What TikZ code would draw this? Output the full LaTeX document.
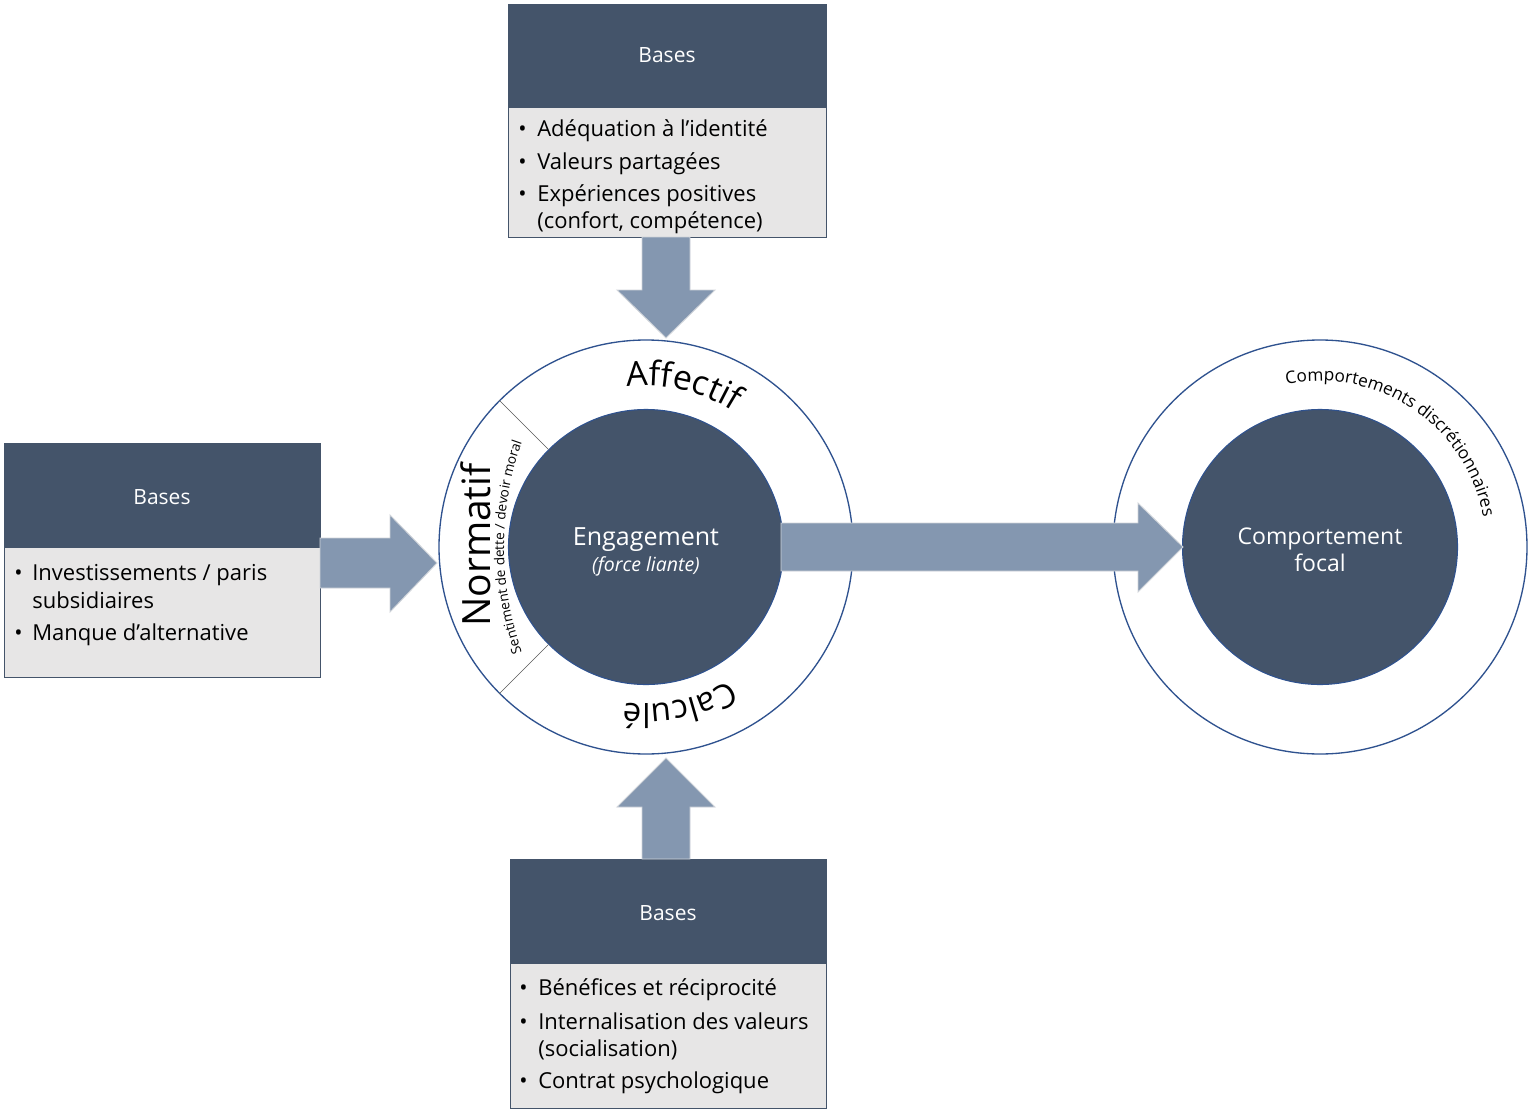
\documentclass[tikz,border=0pt]{standalone}
\usepackage{fontspec}
\setmainfont{Open Sans}
\usetikzlibrary{decorations.text,calc}
\definecolor{hdr}{HTML}{44546A}
\definecolor{bodyg}{HTML}{E7E6E6}
\definecolor{arrowc}{HTML}{8497B0}
\definecolor{ringc}{HTML}{2F528F}
\definecolor{arrowedge}{HTML}{D0D4DA}
\begin{document}
\begin{tikzpicture}[x=0.75pt,y=0.75pt,
  hdrbox/.style={rectangle, fill=hdr, draw=hdr, line width=0.8pt, anchor=north west, inner sep=0pt},
  bodybox/.style={rectangle, fill=bodyg, draw=hdr, line width=0.8pt, anchor=north west, inner sep=0pt},
  hdrtext/.style={text=white, font=\fontsize{15.75}{18}\selectfont, anchor=base, inner sep=0pt},
  itemtext/.style={font=\fontsize{16.5}{19}\selectfont, anchor=base west, inner sep=0pt},
  blockarrow/.style={fill=arrowc, draw=arrowedge, line width=0.7pt},
  ringstyle/.style={circle, draw=ringc, line width=1pt, fill=white, inner sep=0pt},
  corestyle/.style={circle, draw=ringc, line width=0.8pt, fill=hdr, inner sep=0pt},
  sepline/.style={draw=black!65, line width=0.5pt},
  arctext/.style={decorate, decoration={text along path, text align=center, text={#1}}},
  coretext/.style={text=white, anchor=base, inner sep=0pt}
]
\useasboundingbox (0,0) rectangle (1529,-1110);
\fill[white] (0,0) rectangle (1529,-1110);

% ---------- top box ----------
\node[bodybox, minimum width=238.5pt, minimum height=97.5pt] (topB) at (508,-107) {};
\node[hdrbox, minimum width=238.5pt, minimum height=77.25pt] (topH) at (508,-4) {};
\node[hdrtext] (topHt) at (667,-62) {Bases};
\node[itemtext] (tb1) at (518,-136) {•};
\node[itemtext] (t1) at (537,-136) {Adéquation à l’identité};
\node[itemtext] (tb2) at (518,-169) {•};
\node[itemtext] (t2) at (537,-169) {Valeurs partagées};
\node[itemtext] (tb3) at (518,-201) {•};
\node[itemtext] (t3) at (537,-201) {Expériences positives};
\node[itemtext] (t4) at (537,-228) {(confort, compétence)};

% ---------- left box ----------
\node[bodybox, minimum width=237pt, minimum height=97.5pt] (leftB) at (4,-547) {};
\node[hdrbox, minimum width=237pt, minimum height=78pt] (leftH) at (4,-443) {};
\node[hdrtext] (leftHt) at (162,-504) {Bases};
\node[itemtext] (lb1) at (14,-580) {•};
\node[itemtext] (l1) at (32,-580) {Investissements / paris};
\node[itemtext] (l2) at (32,-608) {subsidiaires};
\node[itemtext] (lb3) at (14,-640) {•};
\node[itemtext] (l3) at (32,-640) {Manque d’alternative};

% ---------- bottom box ----------
\node[bodybox, minimum width=237pt, minimum height=108.75pt] (botB) at (510,-963) {};
\node[hdrbox, minimum width=237pt, minimum height=78pt] (botH) at (510,-859) {};
\node[hdrtext] (botHt) at (668,-920) {Bases};
\node[itemtext] (bb1) at (519,-995) {•};
\node[itemtext] (b1) at (538,-995) {Bénéfices et réciprocité};
\node[itemtext] (bb2) at (519,-1029) {•};
\node[itemtext] (b2) at (538,-1029) {Internalisation des valeurs};
\node[itemtext] (b3) at (538,-1056) {(socialisation)};
\node[itemtext] (bb4) at (519,-1088) {•};
\node[itemtext] (b4) at (538,-1088) {Contrat psychologique};

% ---------- circles ----------
\node[ringstyle, minimum size=310.5pt] (ringA) at (646,-547) {};
\node[corestyle, minimum size=206.25pt] (coreA) at (646,-547) {};
\node[ringstyle, minimum size=310.5pt] (ringB) at (1320,-547) {};
\node[corestyle, minimum size=206.25pt] (coreB) at (1320,-547) {};

\draw[sepline] (coreA.135) -- (ringA.135);
\draw[sepline] (coreA.225) -- (ringA.225);

% curved labels
\path[arctext={|\fontsize{25.5}{30}\selectfont|Affectif}]
  ($(ringA.center)+(117:161)$) arc[start angle=117, end angle=37, radius=161];
\path[arctext={|\fontsize{24.75}{29}\selectfont|Calculé}]
  ($(ringA.center)+(-38:157)$) arc[start angle=-38, end angle=-118, radius=157];
\node[rotate=90, anchor=base, inner sep=0pt, font=\fontsize{29.25}{34}\selectfont] (norm) at (490,-545) {Normatif};
\path[arctext={|\fontsize{10.2}{12}\selectfont|Sentiment de dette / devoir moral}]
  ($(ringA.center)+(174,0)+(206:316)$) arc[start angle=206, end angle=154, radius=316];
\path[arctext={|\fontsize{12.9}{15}\selectfont|Comportements discrétionnaires}]
  ($(ringB.center)+(112:166)$) arc[start angle=112, end angle=0, radius=166];

% core texts
\node[coretext, font=\fontsize{18.75}{22}\selectfont] (eng) at (646,-545) {Engagement};
\node[coretext, font=\fontsize{14.6}{18}\selectfont\itshape] (force) at (646,-571) {(force liante)};
\node[coretext, font=\fontsize{17.25}{21}\selectfont] (comp) at (1320,-544) {Comportement};
\node[coretext, font=\fontsize{17.25}{21}\selectfont] (focal) at (1320,-571) {focal};

% ---------- block arrows ----------
\draw[blockarrow] (642,-237) -- (642,-290) -- (617,-290) -- (666,-338) -- (715,-290) -- (690,-290) -- (690,-237) -- cycle;
\draw[blockarrow] (642,-859) -- (642,-807) -- (617,-807) -- (666,-758) -- (715,-807) -- (690,-807) -- (690,-859) -- cycle;
\draw[blockarrow] (320,-538) -- (390,-538) -- (390,-515) -- (437,-563) -- (390,-612) -- (390,-588) -- (320,-588) -- cycle;
\draw[blockarrow] (781,-523) -- (1138,-523) -- (1138,-503) -- (1183,-547) -- (1138,-592) -- (1138,-571) -- (781,-571) -- cycle;
\end{tikzpicture}
\end{document}
